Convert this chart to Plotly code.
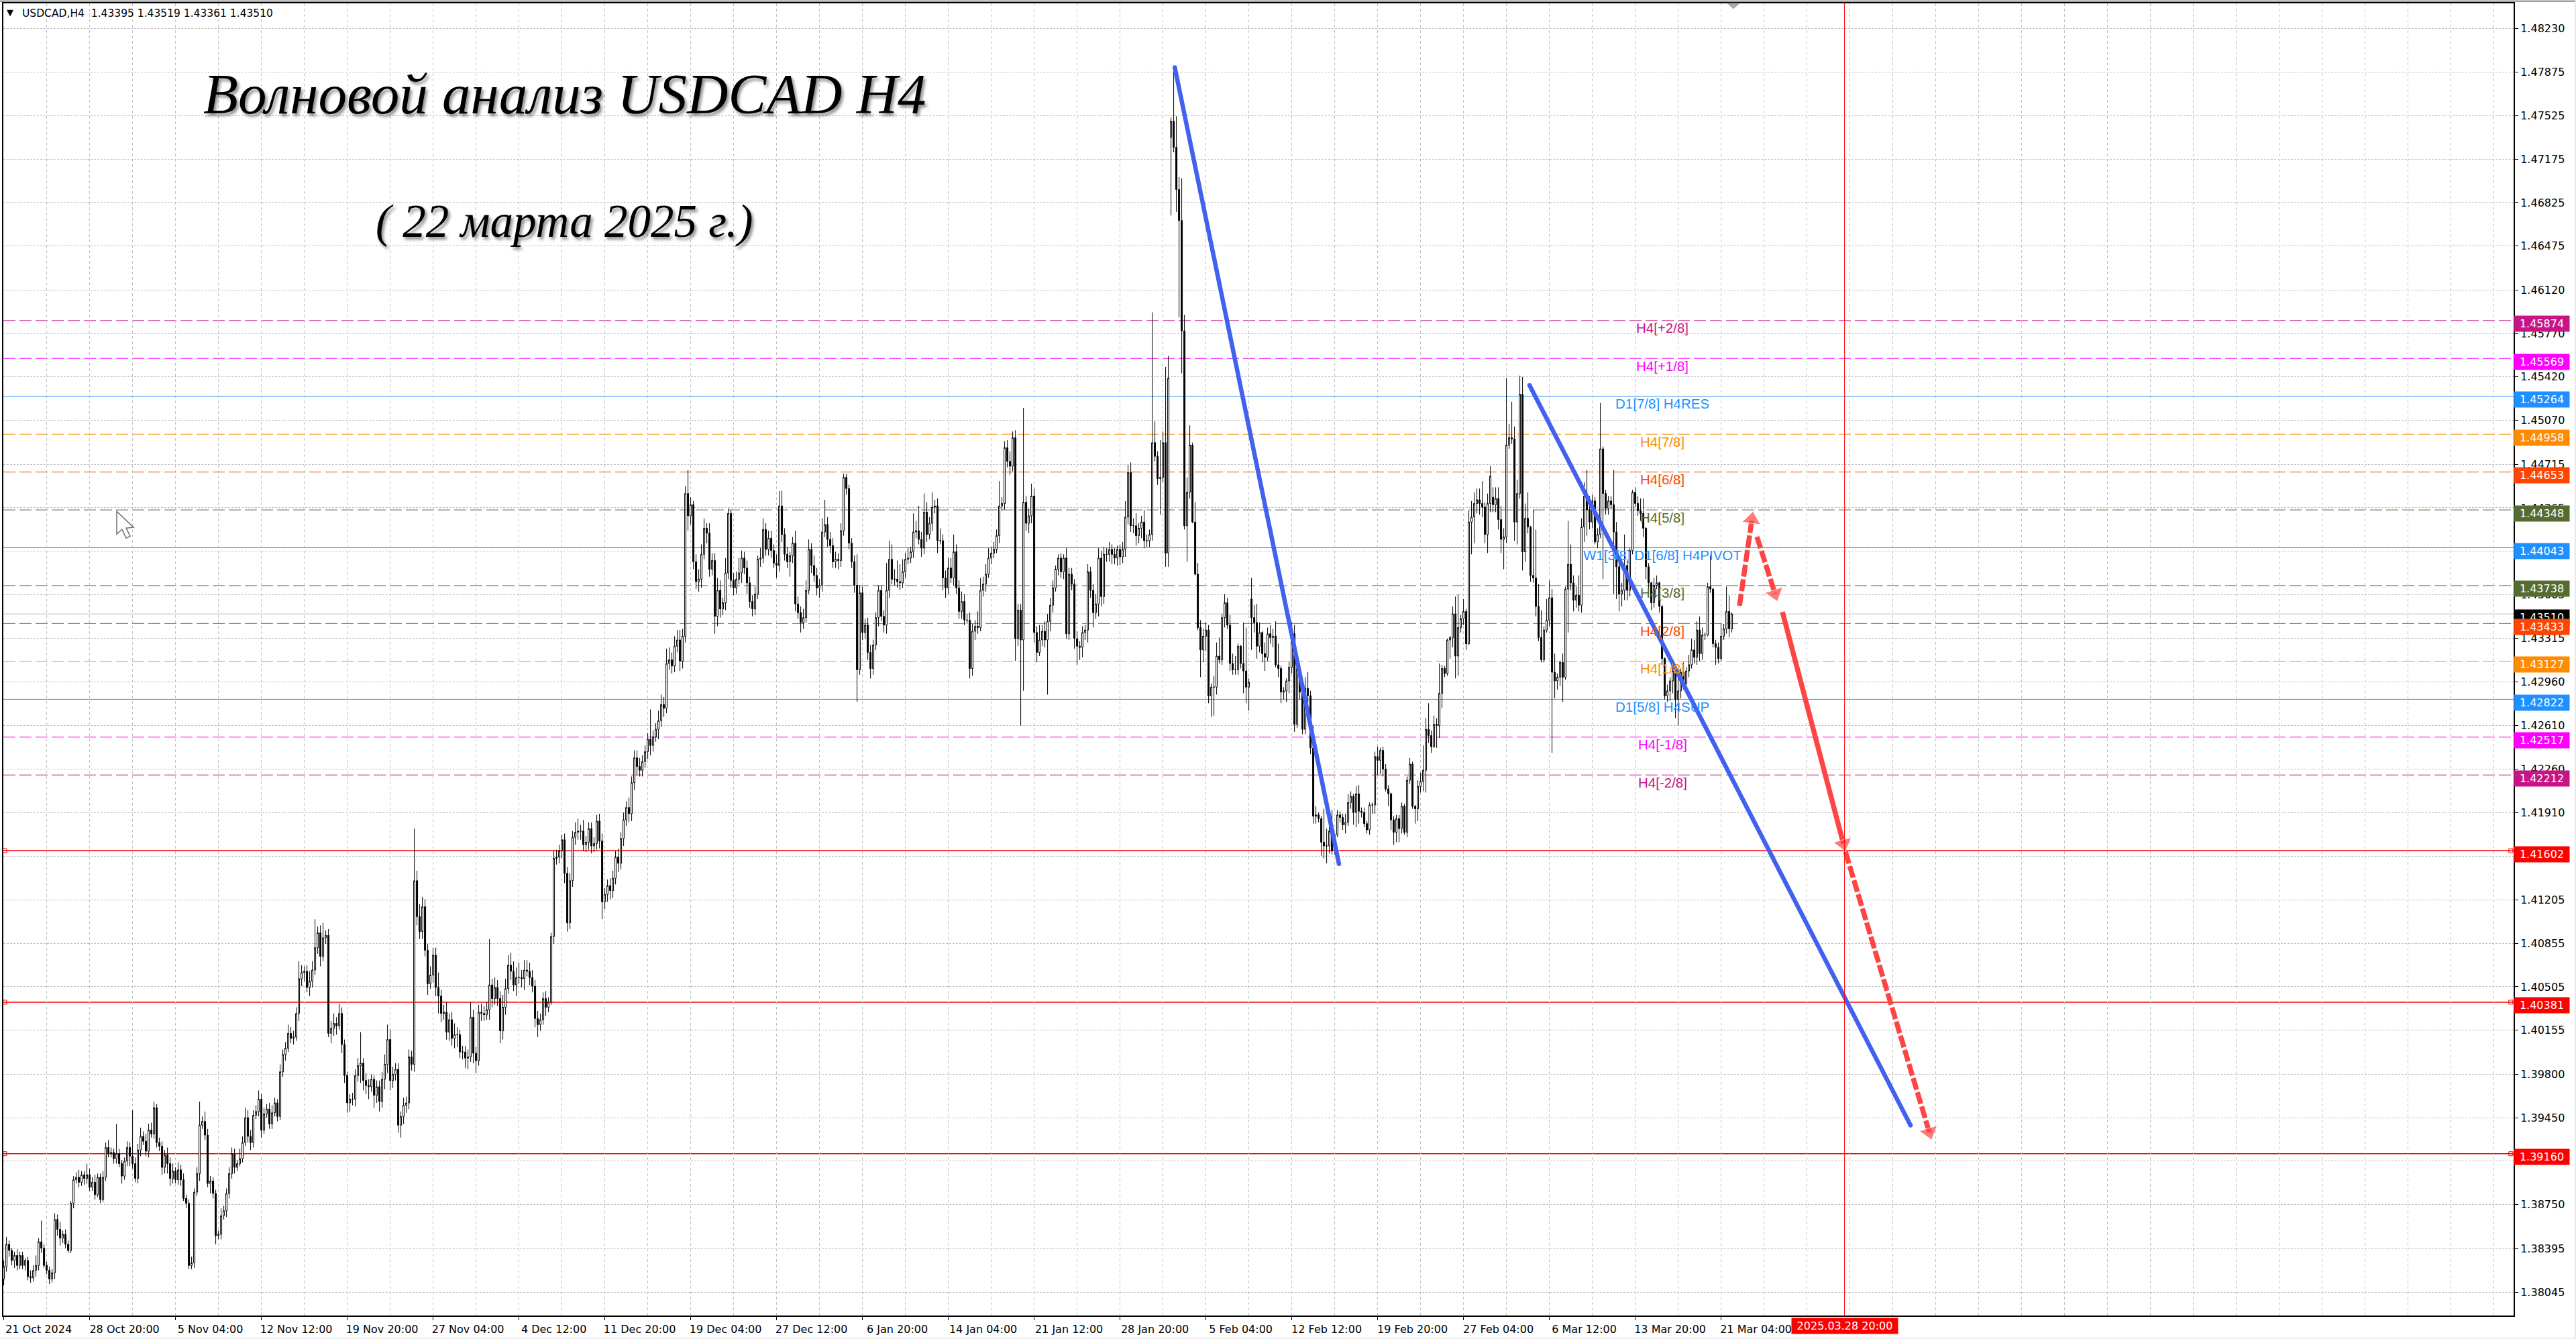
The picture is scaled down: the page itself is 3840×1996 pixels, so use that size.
import plotly.graph_objects as go

# Chart window in pixels
W, H = 3840, 1996
LEFT, RIGHT, TOP, BOTTOM = 5, 3747, 4.5, 1961.4

# Closing prices of the H4 bars, in pips above 1.0000 (20 bars per row)
closes = [
    3825,3843,3838,3830,3834,3826,3834,3826,3830,3817,3816,3822,3826,3845,3840,3826,3822,3815,3820,3863,
    3855,3848,3851,3843,3838,3876,3895,3897,3893,3899,3896,3899,3889,3893,3883,3897,3879,3897,3921,3916,
    3917,3912,3916,3908,3898,3910,3921,3914,3908,3896,3919,3930,3926,3918,3935,3932,3953,3925,3922,3905,
    3915,3908,3896,3902,3895,3903,3895,3880,3876,3826,3828,3885,3900,3939,3942,3931,3892,3894,3884,3850,
    3851,3866,3870,3884,3900,3916,3905,3908,3912,3925,3945,3930,3925,3947,3950,3960,3935,3948,3952,3940,
    3949,3957,3946,3982,3996,4001,4013,4009,4010,4029,4057,4062,4063,4050,4055,4064,4082,4094,4075,4090,
    4092,4013,4017,4021,4019,4029,4004,3979,3957,3960,3960,3979,3987,3989,3975,3971,3970,3976,3963,3970,
    3958,3976,3988,4008,3975,3980,3984,3939,3946,3955,3957,3994,3988,4136,4107,4095,4115,4080,4053,4060,
    4076,4050,4043,4029,4030,4014,4024,4009,4012,4012,3998,3998,3993,3994,4026,3997,3991,4030,4029,4028,
    4032,4052,4041,4050,4041,4015,4034,4049,4068,4063,4052,4058,4058,4057,4064,4063,4058,4051,4025,4020,
    4024,4041,4034,4038,4091,4154,4155,4160,4169,4142,4102,4136,4171,4175,4176,4176,4165,4167,4178,4164,
    4166,4184,4168,4119,4125,4132,4128,4138,4155,4150,4170,4185,4195,4190,4215,4235,4228,4225,4232,4240,
    4250,4245,4252,4258,4265,4278,4275,4311,4314,4309,4325,4330,4313,4333,4448,4430,4439,4393,4377,4379,
    4399,4420,4416,4387,4394,4349,4370,4355,4360,4384,4432,4378,4372,4379,4384,4396,4388,4376,4361,4355,
    4367,4395,4396,4419,4403,4412,4402,4392,4390,4438,4415,4399,4393,4398,4408,4359,4352,4344,4348,4370,
    4403,4390,4382,4372,4374,4417,4423,4411,4406,4393,4395,4394,4418,4461,4452,4408,4393,4374,4306,4368,
    4336,4342,4320,4307,4326,4348,4370,4349,4342,4370,4395,4379,4379,4377,4376,4385,4395,4396,4401,4417,
    4418,4411,4404,4433,4415,4424,4437,4438,4410,4410,4380,4372,4388,4380,4401,4372,4353,4361,4346,4346,
    4307,4337,4341,4340,4370,4375,4383,4396,4400,4403,4414,4438,4440,4485,4474,4470,4493,4331,4354,4330,
    4441,4424,4430,4446,4336,4320,4330,4337,4330,4345,4358,4372,4387,4396,4385,4396,4335,4383,4375,4331,
    4325,4324,4336,4338,4385,4370,4352,4359,4396,4365,4399,4399,4403,4399,4396,4403,4397,4403,4429,4465,
    4422,4422,4414,4420,4425,4410,4410,4415,4489,4478,4460,4461,4489,4400,4541,4748,4727,4693,4668,4579,
    4422,4449,4487,4425,4383,4340,4322,4333,4338,4285,4292,4292,4317,4314,4348,4360,4342,4311,4306,4306,
    4325,4311,4305,4292,4296,4348,4344,4325,4336,4319,4316,4335,4332,4333,4310,4307,4288,4289,4297,4308,
    4335,4262,4307,4288,4258,4291,4285,4243,4188,4189,4186,4167,4164,4164,4176,4160,4173,4189,4187,4181,
    4183,4199,4204,4191,4206,4192,4191,4182,4177,4197,4197,4236,4233,4241,4226,4210,4206,4185,4175,4186,
    4178,4196,4175,4217,4230,4196,4194,4212,4216,4225,4258,4253,4244,4262,4261,4287,4307,4303,4330,4332,
    4351,4317,4340,4347,4353,4327,4425,4429,4440,4443,4440,4437,4415,4440,4462,4439,4444,4427,4411,4413,
    4487,4493,4492,4425,4448,4528,4401,4428,4421,4382,4380,4357,4332,4314,4338,4346,4364,4304,4297,4300,
    4312,4300,4371,4391,4376,4362,4366,4358,4421,4446,4435,4425,4442,4409,4415,4484,4448,4436,4442,4439,
    4417,4389,4367,4370,4390,4370,4402,4449,4440,4434,4432,4420,4389,4376,4360,4374,4376,4357,4315,4285,
    4289,4297,4305,4282,4289,4304,4295,4305,4310,4322,4316,4338,4319,4334,4334,4373,4371,4327,4324,4315,
    4333,4339,4353,4339,4351,
]

# Wick above the body of each bar, in pips
upper_wicks = [
    5,6,3,2,3,5,3,3,2,3,5,4,8,3,17,3,3,3,3,5,
    4,6,3,4,3,2,3,4,6,3,3,9,5,4,6,3,3,5,4,6,
    4,3,24,4,3,3,5,4,37,5,5,7,4,6,5,6,5,3,4,4,
    4,6,5,6,3,6,4,5,3,3,5,3,5,19,4,8,5,4,3,3,
    3,6,4,4,5,5,4,3,8,5,8,6,5,4,5,7,4,5,4,5,
    6,4,3,6,4,5,7,5,5,5,14,6,4,5,8,7,23,5,6,12,
    4,5,6,8,5,8,5,4,3,4,5,5,6,25,4,6,5,4,3,5,
    5,6,8,12,8,6,5,5,4,6,5,6,5,42,8,10,8,6,5,7,
    6,6,12,5,6,8,5,6,9,6,4,5,5,6,12,6,5,6,7,6,
    6,37,5,8,6,6,10,8,8,10,8,8,12,6,8,8,7,6,5,6,
    5,5,6,4,3,6,6,5,4,5,5,6,5,8,10,5,9,5,5,5,
    5,5,6,6,5,5,6,6,5,7,5,6,5,8,5,6,6,7,5,5,
    5,24,5,5,8,8,6,12,10,6,8,8,8,6,6,19,6,3,6,8,
    8,8,4,8,6,6,10,8,4,12,4,3,6,6,12,6,5,6,5,5,
    6,3,8,9,5,6,6,5,7,12,12,5,6,3,5,10,6,5,7,8,
    8,5,8,6,5,11,20,6,6,6,6,5,6,3,3,3,4,5,25,6,
    5,5,6,6,4,4,4,4,5,22,15,12,8,15,14,10,5,8,4,15,
    8,20,6,15,8,5,12,5,6,10,5,6,8,8,14,6,6,8,6,5,
    6,6,5,12,10,6,8,8,5,6,5,20,5,5,6,8,5,6,5,5,
    76,5,6,10,6,5,12,5,8,6,6,6,3,3,4,3,8,5,5,4,
    6,4,5,4,6,4,5,8,8,6,6,5,6,4,5,3,4,6,13,6,
    8,6,10,4,5,10,5,4,105,17,4,30,9,61,18,3,44,25,10,34,
    13,12,16,2,16,9,6,6,6,4,3,9,11,15,3,7,4,8,8,11,
    2,1,33,35,3,17,10,15,8,1,9,5,7,6,12,17,2,3,2,5,
    9,7,3,3,3,9,13,4,18,7,2,2,27,14,14,17,1,4,3,3,
    7,7,4,2,6,7,3,4,2,2,2,4,8,2,3,4,3,1,3,3,
    3,3,2,3,5,2,1,5,7,20,9,21,4,7,5,24,3,2,1,1,
    6,14,27,3,10,2,9,13,9,9,9,18,4,8,8,8,9,9,11,7,
    54,11,29,10,11,15,14,12,21,1,53,39,18,22,3,17,14,7,15,3,
    1,7,2,35,16,6,7,16,7,11,21,11,5,3,5,37,2,3,4,4,
    28,8,4,6,25,5,2,2,4,6,10,12,1,3,1,6,6,1,1,1,
    5,3,8,5,17,3,8,3,8,9,8,7,11,6,2,3,25,1,3,4,
    10,4,20,13,1,
]

# Wick below the body of each bar, in pips
lower_wicks = [
    5,4,5,4,6,4,3,3,4,3,4,3,5,4,4,2,3,4,3,5,
    5,6,4,3,2,2,4,3,4,3,5,4,3,3,4,2,3,2,3,3,
    3,4,4,3,6,3,4,8,4,3,4,5,3,4,5,3,4,4,4,6,
    5,8,6,4,3,4,5,2,4,3,3,4,3,6,3,4,3,8,4,7,
    3,4,3,5,4,4,5,3,2,3,3,5,6,4,3,4,6,3,3,4,
    4,3,4,3,4,5,3,4,5,3,6,6,7,4,7,5,4,5,8,4,
    5,3,8,6,7,3,7,6,8,7,5,6,5,14,8,7,10,4,10,6,
    8,5,8,7,8,6,5,6,10,6,6,5,5,6,7,6,6,5,9,4,
    6,7,14,7,5,6,7,6,8,10,5,6,8,9,4,8,10,4,6,5,
    4,8,7,5,6,10,7,6,4,7,5,9,5,7,9,4,6,5,7,10,
    5,4,7,4,2,6,5,5,6,8,7,5,5,6,6,7,5,6,6,6,
    5,5,6,14,6,6,7,6,5,7,5,6,5,7,6,6,7,5,5,5,
    6,8,5,4,8,5,7,4,5,6,5,5,8,6,5,12,7,6,6,8,
    7,4,8,6,5,14,8,7,5,6,5,6,6,5,4,8,5,9,5,6,
    5,4,6,4,5,5,6,4,10,5,6,5,5,12,6,6,5,8,5,4,
    3,6,5,6,8,5,4,6,6,5,5,7,5,4,5,5,5,6,26,4,
    6,5,6,8,5,4,7,4,6,7,6,4,5,5,6,4,5,4,4,5,
    5,4,7,5,6,4,6,5,10,3,10,8,5,4,6,5,6,6,4,3,
    8,6,7,5,3,5,6,3,5,4,3,6,4,5,5,7,4,18,6,69,
    41,6,8,6,8,8,3,5,6,44,8,6,3,5,5,6,4,5,5,8,
    15,10,8,6,10,6,12,5,10,8,6,6,6,8,5,6,7,5,6,6,
    5,6,8,6,8,6,5,5,5,4,5,29,4,11,11,63,4,18,78,34,
    3,29,5,1,1,2,22,10,12,6,17,23,6,3,4,8,3,6,4,4,
    4,4,18,13,19,26,8,10,5,7,11,3,5,8,2,7,9,6,9,10,
    5,6,3,6,4,4,6,5,6,6,3,11,10,14,6,3,3,2,4,4,
    7,3,5,10,12,10,4,3,3,4,7,7,12,11,6,2,10,8,10,8,
    11,4,2,4,3,2,12,10,5,8,18,6,5,1,18,10,12,3,2,15,
    8,18,16,4,5,5,1,26,21,8,9,8,7,15,7,6,6,8,11,24,
    5,3,4,15,18,4,15,8,5,5,4,8,3,2,2,2,5,65,14,7,
    7,20,2,35,6,9,6,5,6,12,21,6,5,2,5,3,69,5,5,4,
    50,26,14,10,8,8,5,3,3,4,6,7,10,8,6,4,3,5,5,3,
    5,8,10,15,21,6,5,4,5,3,5,6,6,5,4,1,3,3,14,4,
    2,3,4,7,3,
]

# Bars that opened away from the previous close (weekend gaps), bar number: open in pips
first_open = 3815
open_gaps = {435: 4735, 465: 4363, 555: 4445}

# Time axis labels, one every 32 bars starting at the first bar
time_labels = ['21 Oct 2024', '28 Oct 20:00', '5 Nov 04:00', '12 Nov 12:00', '19 Nov 20:00', '27 Nov 04:00',
               '4 Dec 12:00', '11 Dec 20:00', '19 Dec 04:00', '27 Dec 12:00', '6 Jan 20:00', '14 Jan 04:00',
               '21 Jan 12:00', '28 Jan 20:00', '5 Feb 04:00', '12 Feb 12:00', '19 Feb 20:00', '27 Feb 04:00',
               '6 Mar 12:00', '13 Mar 20:00', '21 Mar 04:00']

# Price axis labels
price_ticks = [1.48230, 1.47875, 1.47525, 1.47175, 1.46825, 1.46475, 1.46120, 1.45770, 1.45420, 1.45070,
               1.44715, 1.44365, 1.44015, 1.43665, 1.43315, 1.42960, 1.42610, 1.42260, 1.41910, 1.41555,
               1.41205, 1.40855, 1.40505, 1.40155, 1.39800, 1.39450, 1.39100, 1.38750, 1.38395, 1.38045]

# Murrey levels with their tags
level_prices = [1.45874, 1.45569, 1.45264, 1.44958, 1.44653, 1.44348, 1.44043, 1.43738, 1.43510,
                1.43433, 1.43127, 1.42822, 1.42517, 1.42212, 1.41602, 1.40381, 1.39160]
level_colors = ['#C71585', '#FF00FF', '#1E90FF', '#FF8C00', '#FF4500', '#556B2F', '#1E90FF', '#556B2F', '#000000',
                '#FF4500', '#FF8C00', '#1E90FF', '#FF00FF', '#C71585', '#FF0000', '#FF0000', '#FF0000']
level_names = ['H4[+2/8]', 'H4[+1/8]', 'D1[7/8] H4RES', 'H4[7/8]', 'H4[6/8]', 'H4[5/8]',
               'W1[3/8] D1[6/8] H4PIVOT', 'H4[3/8]', '', 'H4[2/8]', 'H4[1/8]', 'D1[5/8] H4SUP',
               'H4[-1/8]', 'H4[-2/8]', '', '', '']
level_dashes = ['18px,6px', '18px,6px', 'solid', '18px,6px', '18px,6px', '18px,6px', 'solid', '18px,6px', 'solid',
                '18px,6px', '18px,6px', 'solid', '18px,6px', '18px,6px', 'solid', 'solid', 'solid']
red_levels = [1.41602, 1.40381, 1.39160]

# Hand drawn wave lines, x in bar numbers
blue_x = [[436.4, 497.6], [568.6, 710.6]]
blue_y = [[1.47914, 1.41495], [1.45353, 1.39388]]
arrow_x = [[646.85, 651.48], [653.35, 660.1], [662.85, 685.6], [686.35, 717.6]]
arrow_y = [[1.43575, 1.44272], [1.44132, 1.43672], [1.43526, 1.41657], [1.41592, 1.39333]]
arrow_dash = ['18px,4px', '18px,4px', 'solid', '18px,4px']
cursor_bar = 686

# Build the OHLC series
lows, highs, opens = [], [], []
prev = first_open
for i, c in enumerate(closes):
    o = open_gaps.get(i, prev)
    opens.append(o / 10000 + 1)
    highs.append((max(o, c) + upper_wicks[i]) / 10000 + 1)
    lows.append((min(o, c) - lower_wicks[i]) / 10000 + 1)
    prev = c
close_prices = [c / 10000 + 1 for c in closes]
bars = list(range(len(closes)))


# Pixel to paper coordinates, for the things that sit on the window and not on the data
def px(x):
    return (x - LEFT) / (RIGHT - LEFT)


def py(y):
    return (BOTTOM - y) / (BOTTOM - TOP)


fig = go.Figure()

# Candles
fig.add_trace(go.Candlestick(
    x=bars, open=opens, high=highs, low=lows, close=close_prices,
    increasing=dict(line=dict(color='black', width=1), fillcolor='white'),
    decreasing=dict(line=dict(color='black', width=1), fillcolor='black'),
    whiskerwidth=0, hoverinfo='skip', showlegend=False
))

# Small handles on the red levels
for level in red_levels:
    fig.add_trace(go.Scatter(
        x=[0.35, 934.3], y=[level, level], mode='markers',
        marker=dict(symbol='square-open', size=6, color='#FF0000', line=dict(width=1)),
        hoverinfo='skip', showlegend=False
    ))

# Blue wave lines
for lx, ly in zip(blue_x, blue_y):
    fig.add_trace(go.Scatter(
        x=lx, y=ly, mode='lines+markers',
        line=dict(color='#4161EE', width=6.5),
        marker=dict(symbol='circle', size=6.5, color='#4161EE'),
        hoverinfo='skip', showlegend=False
    ))

# Red forecast arrows
for ax, ay, dash in zip(arrow_x, arrow_y, arrow_dash):
    fig.add_trace(go.Scatter(
        x=ax, y=ay, mode='lines+markers',
        line=dict(color='#FF4444', width=7.5, dash=dash),
        marker=dict(symbol='triangle-up', size=[0, 24], color='#FF4444', angleref='previous'),
        hoverinfo='skip', showlegend=False
    ))

# Level lines go under the candles
for price, color, dash in zip(level_prices, level_colors, level_dashes):
    line_color = '#C0C0C0' if color == '#000000' else color
    line_width = 1.5 if color == '#FF0000' else 1
    fig.add_shape(type='line', xref='paper', x0=0, x1=1, y0=price, y1=price, layer='below',
                  line=dict(color=line_color, width=line_width, dash=dash))

# Vertical red line on the forecast date
fig.add_shape(type='line', yref='paper', x0=cursor_bar, x1=cursor_bar, y0=0, y1=1,
              line=dict(color='#FF0000', width=1))

# Level names next to the lines and price tags on the right
for price, color, name in zip(level_prices, level_colors, level_names):
    if name:
        fig.add_annotation(x=618.1, y=price, yshift=-11, text=name, showarrow=False,
                           font=dict(family='Liberation Sans', size=20.5, color=color))
    fig.add_annotation(xref='paper', x=px(3747), xanchor='left', y=price, yanchor='middle', yshift=-5,
                       text=f'{price:.5f}', showarrow=False, width=82, height=23, borderpad=0,
                       bgcolor=color, font=dict(family='DejaVu Sans', size=16, color='white'))

# Date tag of the vertical line
fig.add_annotation(xref='x', x=cursor_bar, xanchor='center', yref='paper', y=py(1976.5), yanchor='middle',
                   text='2025.03.28 20:00', showarrow=False,
                   width=158, height=23, borderpad=0, bgcolor='#FF0000',
                   font=dict(family='DejaVu Sans', size=16, color='white'))

# Chart header
fig.add_annotation(xref='paper', yref='paper', x=px(31), xanchor='left', y=py(20), yanchor='middle',
                   text='USDCAD,H4  1.43395 1.43519 1.43361 1.43510', showarrow=False,
                   font=dict(family='DejaVu Sans', size=15.5, color='black'))
fig.add_annotation(xref='paper', yref='paper', x=px(15), xanchor='center', y=py(18), yanchor='middle',
                   text='▼', showarrow=False,
                   font=dict(family='DejaVu Sans', size=13, color='black'))

# Hand written titles
title_shadow = '3px 4px 4px rgba(0,0,0,0.45)'
fig.add_annotation(xref='paper', yref='paper', x=px(842), xanchor='center', y=py(140), yanchor='middle',
                   text='<i>Волновой анализ USDCAD H4</i>', showarrow=False,
                   font=dict(family='Liberation Serif', size=85, color='black', shadow=title_shadow))
fig.add_annotation(xref='paper', yref='paper', x=px(841), xanchor='center', y=py(330), yanchor='middle',
                   text='<i>( 22 марта 2025 г.)</i>', showarrow=False,
                   font=dict(family='Liberation Serif', size=69, color='black', shadow=title_shadow))

# Mouse pointer left on the chart and the chart shift mark
cursor_path = [(174, 762), (174, 796), (182, 789), (188, 802), (194, 799), (188, 787), (199, 786)]
path = 'M ' + ' L '.join(f'{px(a):.5f} {py(b):.5f}' for a, b in cursor_path) + ' Z'
fig.add_shape(type='path', xref='paper', yref='paper', path=path, fillcolor='white', line=dict(color='#707070', width=1.5))
shift_path = [(2574, 4), (2594, 4), (2584, 13)]
path = 'M ' + ' L '.join(f'{px(a):.5f} {py(b):.5f}' for a, b in shift_path) + ' Z'
fig.add_shape(type='path', xref='paper', yref='paper', path=path, fillcolor='#A8A8A8', line=dict(width=0))

# Window border
fig.add_shape(type='rect', xref='paper', yref='paper', x0=px(0), x1=px(W), y0=py(0), y1=py(2.5),
              fillcolor='#A0A0A0', line=dict(width=0))
fig.add_shape(type='rect', xref='paper', yref='paper', x0=px(3838), x1=px(W), y0=py(0), y1=py(H),
              fillcolor='#E8E8E8', line=dict(width=0))
fig.add_shape(type='rect', xref='paper', yref='paper', x0=px(0), x1=px(W), y0=py(1994.5), y1=py(H),
              fillcolor='#E8E8E8', line=dict(width=0))

# Axis ticks and grid: one label every 32 bars, one grid line every 16 bars
major_ticks = [32 * k for k in range(len(time_labels))]
minor_ticks = [16 * k for k in range(59)]

fig.update_layout(
    width=W, height=H,
    margin=dict(l=LEFT, r=W - RIGHT, t=TOP, b=H - BOTTOM, autoexpand=False),
    paper_bgcolor='white', plot_bgcolor='white',
    showlegend=False, hovermode=False,
    font=dict(family='DejaVu Sans', size=16, color='black'),
    xaxis=dict(
        range=[(LEFT - 5.6) / 4, (RIGHT - 5.6) / 4],
        rangeslider=dict(visible=False),
        tickmode='array', tickvals=major_ticks, ticktext=time_labels,
        ticklabelshift=52, tickangle=0,
        ticks='outside', ticklen=5, tickcolor='black',
        showgrid=True, gridcolor='#C0C0C0', griddash='4px,4px', gridwidth=1,
        minor=dict(tickmode='array', tickvals=minor_ticks, showgrid=True, gridcolor='#C0C0C0',
                   griddash='4px,4px', gridwidth=1, ticks=''),
        showline=True, linecolor='black', linewidth=2, mirror=True, zeroline=False,
        tickfont=dict(family='DejaVu Sans', size=16, color='black')
    ),
    yaxis=dict(
        range=[1.37856, 1.48430], side='right',
        tickmode='array', tickvals=price_ticks, ticktext=[f'{p:.5f}' for p in price_ticks],
        ticks='outside', ticklen=5, tickcolor='black',
        showgrid=True, gridcolor='#C0C0C0', griddash='3px,2px', gridwidth=1,
        showline=True, linecolor='black', linewidth=2, mirror=True, zeroline=False,
        tickfont=dict(family='DejaVu Sans', size=16, color='black')
    )
)

# The page margin would push the whole chart 8 px off the window
fig.write_html("out.html", config={'displayModeBar': False}, post_script="document.body.style.margin='0';")
